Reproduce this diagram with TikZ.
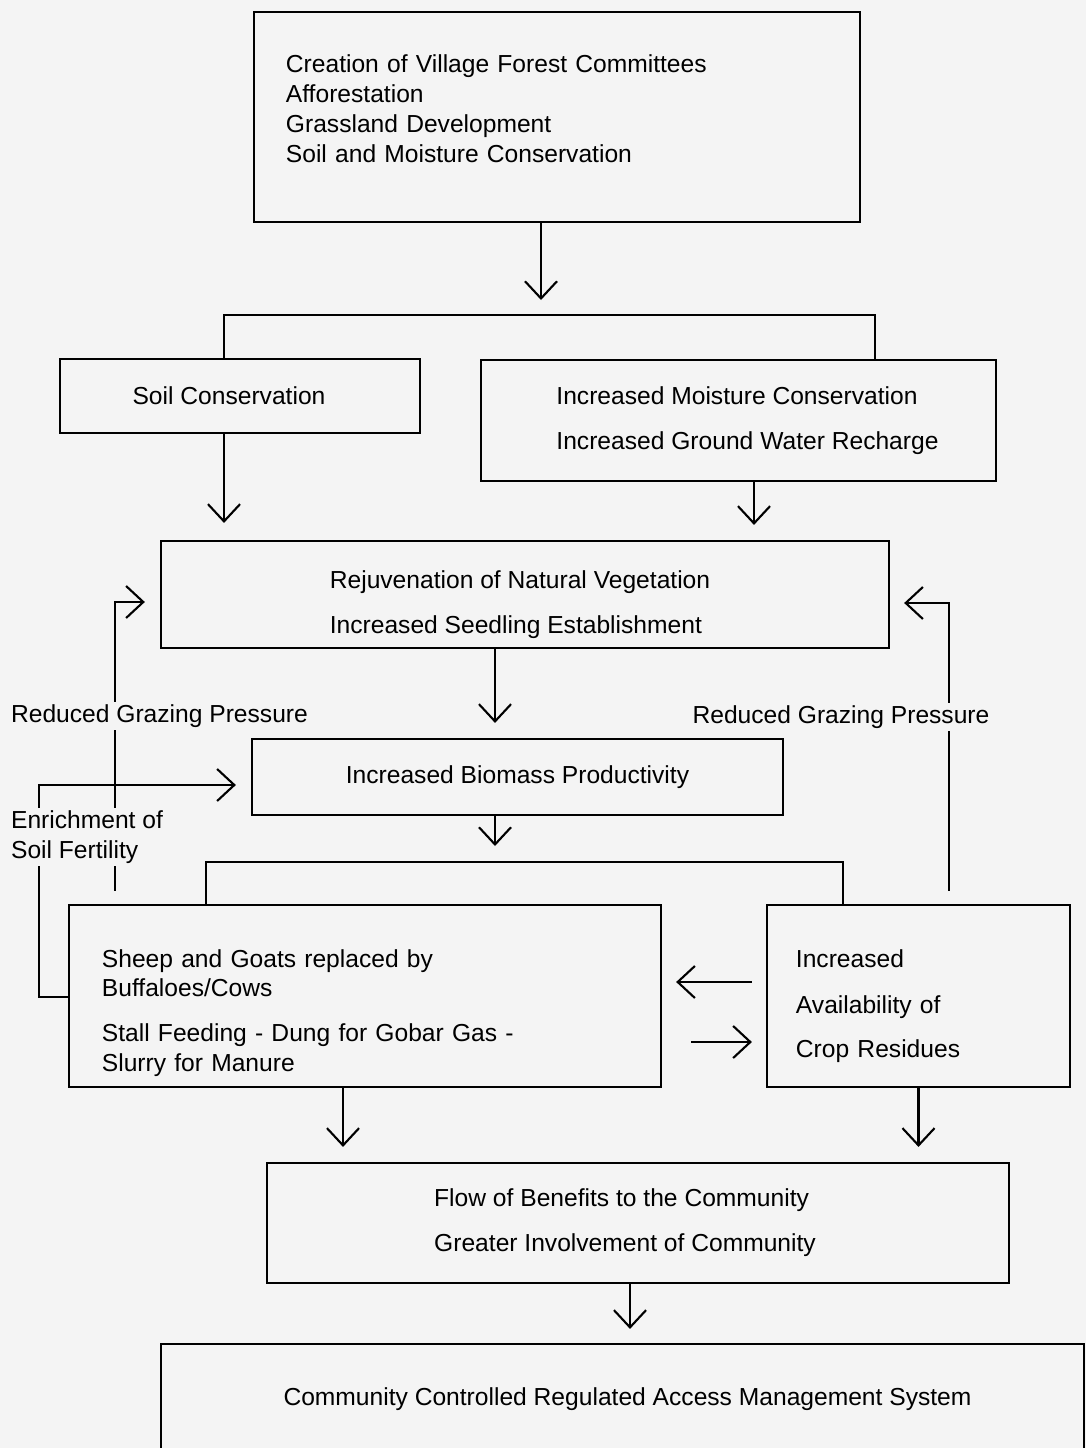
\documentclass[tikz,border=0pt]{standalone}
\usepackage{fontspec}
\setmainfont{Liberation Sans}
\usetikzlibrary{arrows.meta}

\definecolor{pagebg}{RGB}{244,244,244}

\tikzset{
    box/.style={draw, line width=1.5pt, inner sep=0pt, align=left},
    lbl/.style={fill=pagebg, inner sep=2pt, align=left},
    lnk/.style={line width=1.5pt},
    arr/.style={line width=1.5pt, -{Straight Barb[length=0.43cm, width=0.8cm]}},
}

\begin{document}
\begin{tikzpicture}[x=0.025cm, y=-0.025cm, font=\fontsize{17.5pt}{21.3pt}\selectfont]
                \useasboundingbox (0,0) rectangle (1086,1448);
                \fill[pagebg] (0,0) rectangle (1086,1448);
                \clip (0,0) rectangle (1086,1448);

                \begin{scope}[
                        every node/.style={box}
                    ]

                    \node[inner xsep=0.8cm, text width=13.55cm, minimum height=5.25cm] (create) at (557,117)
                        {Creation of Village Forest Committees\\Afforestation\\Grassland Development\\Soil and Moisture Conservation\rule[-0.4cm]{0pt}{0pt}};
                    \node[minimum width=9cm, minimum height=1.85cm] (soil) at (240,396) {\hspace*{-0.55cm}Soil Conservation};
                    \node[minimum width=12.875cm, minimum height=3.025cm] (moist) at (738.5,420.5)
                        {\hspace*{0.45cm}Increased Moisture Conservation\\[0.375cm]\hspace*{0.45cm}Increased Ground Water Recharge};
                    \node[minimum width=18.2cm, minimum height=2.675cm] (rejuv) at (525,594.5)
                        {\hspace*{-0.25cm}\rule{0pt}{0.95cm}Rejuvenation of Natural Vegetation\\[0.375cm]\hspace*{-0.25cm}Increased Seedling Establishment};
                    \node[minimum width=13.275cm, minimum height=1.9cm] (biomass) at (517.5,777) {Increased Biomass Productivity};
                    \node[inner xsep=0.825cm, text width=13.15cm, minimum height=4.55cm] (sheep) at (365,996)
                        {\rule{0pt}{1.3cm}Sheep and Goats replaced by\\Buffaloes/Cows\\[0.375cm]Stall Feeding - Dung for Gobar Gas -\\Slurry for Manure};
                    \node[inner xsep=0.725cm, text width=6.125cm, minimum height=4.55cm] (crop) at (918.5,996)
                        {\rule{0pt}{0.95cm}Increased\\[0.4cm]Availability of\\[0.33cm]Crop Residues};
                    \node[minimum width=18.55cm, minimum height=3cm] (flow) at (638,1223)
                        {\hspace*{-0.65cm}Flow of Benefits to the Community\\[0.375cm]\hspace*{-0.65cm}Greater Involvement of Community};
                    \node[minimum width=23.075cm, minimum height=2.75cm] (access) at (622.5,1399)
                        {\hspace*{0.25cm}Community Controlled Regulated Access Management System};
                \end{scope}

                % bends and turning points
                \coordinate (j1) at (541,315);
                \coordinate (j1l) at (224,315);
                \coordinate (j1r) at (875,315);
                \coordinate (xr) at (754,500);
                \coordinate (xm) at (495,700);
                \coordinate (j2) at (495,862);
                \coordinate (j2l) at (206,862);
                \coordinate (j2r) at (843,862);
                \coordinate (gl) at (115,602);
                \coordinate (gr) at (949,603);
                \coordinate (e1) at (39,997);
                \coordinate (e2) at (39,785);
                \coordinate (ya) at (700,982);
                \coordinate (yb) at (700,1042);
                \coordinate (xs) at (343,1120);
                \coordinate (xf) at (630,1310);

                \draw[arr, shorten >=0.375cm] (create.south -| j1) -- (j1);
                \draw[lnk] (soil.north -| j1l) -- (j1l) -- (j1r) -- (moist.north -| j1r);
                \draw[arr, shorten >=0.425cm] (soil.south -| j1l) -- (rejuv.north -| j1l);
                \draw[arr, shorten >=0.375cm] (moist.south -| xr) -- (rejuv.north -| xr);
                \draw[arr, shorten >=0.375cm] (rejuv.south -| xm) -- (biomass.north -| xm);
                \draw[arr, shorten >=0.4cm] (biomass.south -| j2) -- (j2);
                \draw[lnk] (sheep.north -| j2l) -- (j2l) -- (j2r) -- (crop.north -| j2r);

                \draw[arr, shorten <=0.35cm, shorten >=0.35cm] (crop.west |- ya) -- (sheep.east |- ya);
                \draw[arr, shorten <=0.725cm, shorten >=0.35cm] (sheep.east |- yb) -- (crop.west |- yb);

                \draw[arr, shorten >=0.375cm] (sheep.south -| xs) -- (flow.north -| xs);
                \draw[arr, shorten >=0.375cm] (crop.south) -- (flow.north -| crop.south);
                \draw[arr, shorten >=0.35cm] (flow.south -| xf) -- (access.north -| xf);

                % feedback loops
                \draw[arr, shorten <=0.325cm, shorten >=0.375cm] (sheep.north -| gl) -- (gl) -- (rejuv.west |- gl);
                \draw[arr, shorten <=0.325cm, shorten >=0.35cm] (crop.north -| gr) -- (gr) -- (rejuv.east |- gr);
                \draw[arr, shorten >=0.375cm] (sheep.west |- e1) -- (e1) -- (e2) -- (biomass.west |- e2);

                \node[lbl] (grazl) at (159.5,716) {Reduced Grazing Pressure};
                \node[lbl] (grazr) at (841,717) {Reduced Grazing Pressure};
                \node[lbl, anchor=west] (soilfert) at (8,837) {Enrichment of\\Soil Fertility};
            \end{tikzpicture}
\end{document}
